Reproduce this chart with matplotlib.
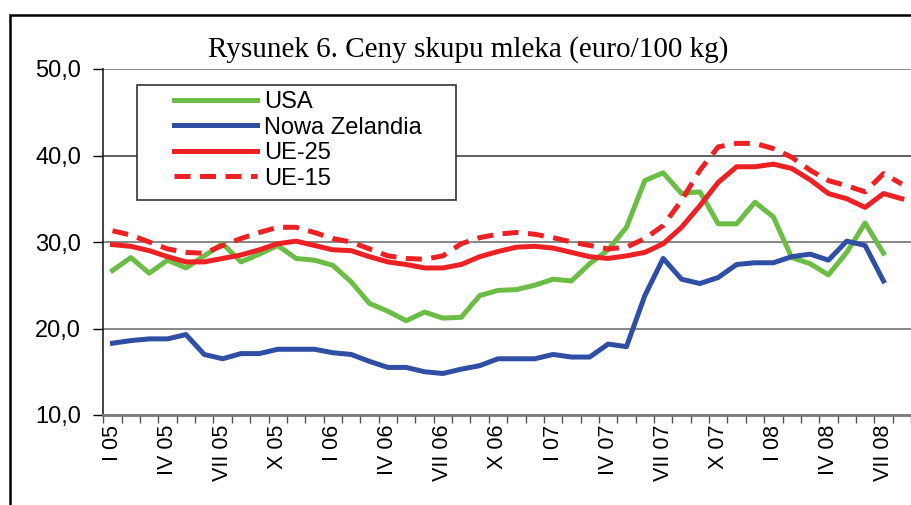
import numpy as np
import matplotlib
matplotlib.use("Agg")
import matplotlib.pyplot as plt
from matplotlib.patches import Rectangle

plt.rcParams['font.family'] = ['Liberation Sans', 'DejaVu Sans']

# miesiace I 05 .. VIII 08
months = ['I', 'II', 'III', 'IV', 'V', 'VI', 'VII', 'VIII', 'IX', 'X', 'XI', 'XII']
labels = [f'{m} {y:02d}' for y in (5, 6, 7, 8) for m in months][:44]

nan = np.nan
usa = [26.7, 28.2, 26.4, 27.9, 27.0, 28.4, 29.8, 27.7, 28.6, 29.6, 28.1, 27.9,
       27.3, 25.4, 22.9, 22.0, 20.9, 21.9, 21.2, 21.3, 23.8, 24.4, 24.5, 25.0,
       25.7, 25.5, 27.5, 29.1, 31.7, 37.1, 38.0, 35.6, 35.8, 32.1, 32.1, 34.6,
       32.9, 28.2, 27.5, 26.2, 28.8, 32.2, 28.7, nan]
nz = [18.3, 18.6, 18.8, 18.8, 19.3, 17.0, 16.5, 17.1, 17.1, 17.6, 17.6, 17.6,
      17.2, 17.0, 16.2, 15.5, 15.5, 15.0, 14.8, 15.3, 15.7, 16.5, 16.5, 16.5,
      17.0, 16.7, 16.7, 18.2, 17.9, 23.8, 28.1, 25.7, 25.2, 25.9, 27.4, 27.6,
      27.6, 28.3, 28.6, 27.9, 30.1, 29.6, 25.5, nan]
ue25 = [29.7, 29.5, 29.0, 28.3, 27.7, 27.7, 28.1, 28.5, 29.1, 29.8, 30.1, 29.6,
        29.1, 29.0, 28.3, 27.7, 27.4, 27.0, 27.0, 27.4, 28.3, 28.9, 29.4, 29.5,
        29.3, 28.8, 28.3, 28.1, 28.4, 28.8, 29.8, 31.7, 34.2, 36.9, 38.7, 38.7,
        39.0, 38.5, 37.2, 35.6, 35.0, 34.0, 35.6, 35.0]
ue15 = [31.3, 30.8, 30.0, 29.2, 28.8, 28.7, 29.6, 30.4, 31.1, 31.7, 31.7, 31.1,
        30.4, 30.0, 29.2, 28.4, 28.1, 28.0, 28.4, 29.8, 30.5, 30.9, 31.1, 30.9,
        30.5, 30.0, 29.6, 29.2, 29.4, 30.4, 31.9, 34.8, 38.3, 41.0, 41.4, 41.4,
        40.8, 39.8, 38.3, 37.1, 36.5, 35.8, 37.9, 36.7]

W, H = 911, 505
fig = plt.figure(figsize=(W / 100, H / 100), dpi=100)

# ramka wokol wykresu
fig.patches.append(Rectangle((10 / W, -0.1), 1.2, 1 - 15 / H + 0.1, transform=fig.transFigure,
                             fill=False, edgecolor='black', linewidth=1.8))

left, right, top, bottom = 103.3, 911, 69, 415
ax = fig.add_axes([left / W, 1 - bottom / H, (right - left) / W, (bottom - top) / H])

x = np.arange(len(labels))
ax.plot(x, usa, color='#6cbd45', lw=3.6, label='USA')
ax.plot(x, nz, color='#2e4fa3', lw=3.6, label='Nowa Zelandia')
ax.plot(x, ue25, color='#ed2024', lw=3.6, label='UE-25')
ax.plot(x, ue15, color='#ed2024', lw=3.6, dashes=(3.2, 1.9), dash_capstyle='butt', label='UE-15')

ax.set_ylim(10, 50)
ax.set_xlim(-0.5, -0.5 + (right - left) / 18.6)
ax.set_yticks([10, 20, 30, 40, 50])
ax.set_yticklabels(['10,0', '20,0', '30,0', '40,0', '50,0'], fontsize=17)
for v in (20, 30, 40, 50):
    ax.axhline(v, color='#333333' if v == 40 else '#666666', lw=1.1, zorder=0)

ax.set_xticks(np.arange(-0.5, len(labels), 1))
ax.set_xticklabels([])
ax.set_xticks(x[::3], minor=True)
ax.set_xticklabels(labels[::3], minor=True, rotation=90, fontsize=15.5)
ax.tick_params(axis='x', which='major', length=6, width=1, color='#555555', direction='out')
ax.tick_params(axis='x', which='minor', length=0, pad=7)
ax.tick_params(axis='y', length=7, width=1, direction='out', pad=9)

ax.spines['top'].set_visible(False)
ax.spines['right'].set_visible(False)
ax.spines['bottom'].set_color('#777777')
ax.spines['bottom'].set_linewidth(2)
ax.spines['left'].set_color('#222222')
ax.spines['left'].set_linewidth(1.2)

fig.text(468 / W, 1 - 56.7 / H, 'Rysunek 6. Ceny skupu mleka (euro/100 kg)',
         family='Liberation Serif', fontsize=21, ha='center', va='baseline')

# legenda bez ramki + ramka jak w Excelu
leg = ax.legend(loc='upper left', bbox_to_anchor=(174 / W, 1 - 91 / H),
                bbox_transform=fig.transFigure, fontsize=17, frameon=False,
                handlelength=3.5, handletextpad=0.3, labelspacing=0.15,
                borderpad=0, borderaxespad=0)
leg.set_zorder(5)
box = Rectangle((137 / W, 1 - 200 / H), (456 - 137) / W, (200 - 85) / H,
                transform=fig.transFigure, facecolor='white', edgecolor='#333333',
                linewidth=1.2, zorder=4)
ax.add_artist(box)
box.set_clip_on(False)

fig.savefig('out.png', dpi=100)
